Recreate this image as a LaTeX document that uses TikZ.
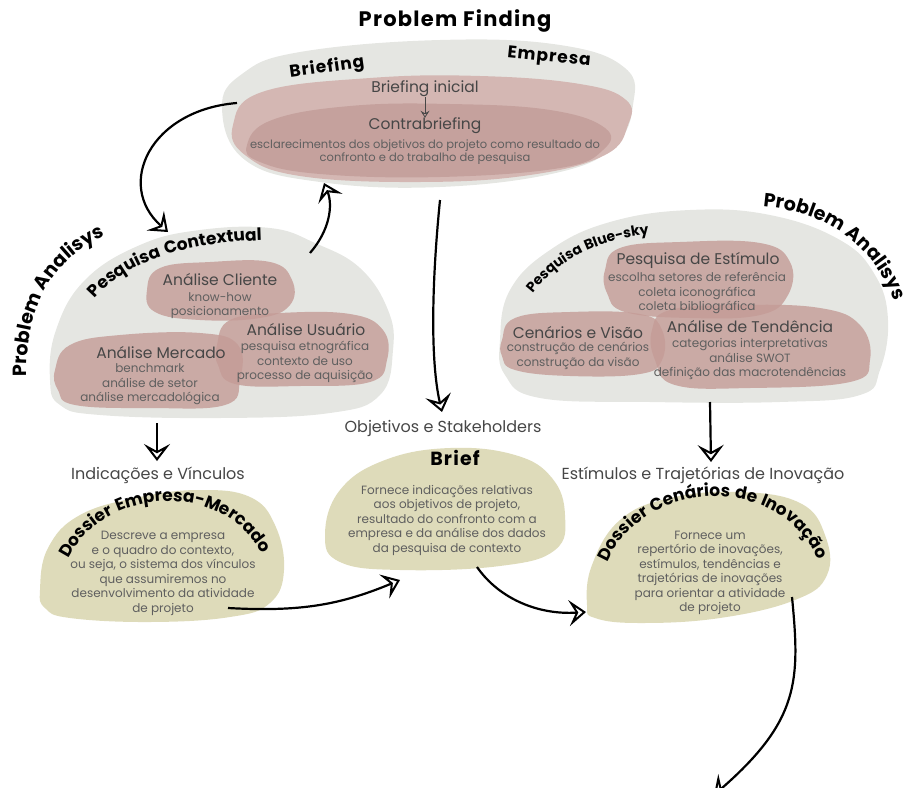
\documentclass[tikz,border=0pt]{standalone}
\usepackage{fontspec}
\setmainfont{Poppins}
\newfontfamily\handfam{Poppins}[LetterSpace=6]
\usetikzlibrary{arrows.meta,decorations.text}
\definecolor{blobgrey}{RGB}{229,230,226}
\definecolor{pinklight}{RGB}{212,183,179}
\definecolor{pinkdark}{RGB}{197,161,157}
\definecolor{pinkblob}{RGB}{196,155,150}
\definecolor{olivefill}{RGB}{222,219,186}
\definecolor{txthead}{RGB}{70,70,70}
\definecolor{txtbody}{RGB}{95,95,95}
\newcommand\handtxt{\handfam\bfseries\fontsize{17}{17}\selectfont}
\newcommand\handbig{\handfam\bfseries\fontsize{19}{19}\selectfont}
\newcommand\handsmall{\handfam\bfseries\fontsize{14}{14}\selectfont}
\begin{document}
\begin{tikzpicture}[x=1pt,y=-1pt,
  greyfill/.style={fill=blobgrey},
  pinkfill/.style={fill=pinkblob, fill opacity=0.8},
  olive/.style={fill=olivefill},
  head/.style={text=txthead, font=\fontsize{15.5}{17}\selectfont, inner sep=0pt},
  body/.style={text=txtbody, font=\fontsize{12}{14.5}\selectfont, align=center, inner sep=0pt},
  lbl/.style={text=txthead, font=\fontsize{16}{18}\selectfont, inner sep=0pt},
  hand/.style={font=\handtxt, inner sep=0pt},
  bigtitle/.style={font=\handfam\bfseries\fontsize{21}{21}\selectfont, inner sep=0pt},
  conn/.style={line width=2.2pt, -{Stealth[open, length=17pt, width=26pt, inset=7pt, line width=2pt, fill=white]}},
  smallarrow/.style={line width=0.8pt, draw=txthead, -{Stealth[open, length=7pt, width=9pt, inset=2.5pt]}},
  curved/.style={decorate, decoration={text along path, text align=center, text={|\handtxt|#1}}},
  curvedbig/.style={decorate, decoration={text along path, text align=center, text={|\handbig|#1}}},
  curvedsmall/.style={decorate, decoration={text along path, text align=center, text={|\handsmall|#1}}}
]
\useasboundingbox (0,0) rectangle (909,787);

% ---------- top blob ----------
\fill[greyfill] plot[smooth cycle, tension=0.7] coordinates {(222,108) (242,74) (300,52) (440,40) (560,45) (625,68) (633,105) (615,145) (560,172) (440,187) (320,182) (245,160)};
\fill[pinklight] plot[smooth cycle, tension=0.7] coordinates {(233,125) (262,92) (370,78) (480,76) (580,84) (626,100) (628,125) (605,155) (530,175) (420,182) (300,176) (245,155)};
\fill[pinkdark] plot[smooth cycle, tension=0.7] coordinates {(247,145) (272,120) (350,106) (450,104) (550,110) (605,128) (603,150) (560,168) (440,177) (320,174) (260,162)};

\node[bigtitle] (pf) at (455,21) {Problem Finding};
\node[hand, rotate=8] (lbrief) at (327,68) {Briefing};
\node[hand, rotate=-6] (lemp) at (549,58) {Empresa};
\node[head] (bi) at (425,89) {Briefing inicial};
\node[head] (cb) at (425,126) {Contrabriefing};
\draw[smallarrow] (bi.south) -- (cb.north);
\node[body, font=\fontsize{11.5}{13}\selectfont] (esc) at (425,152.5) {esclarecimentos dos objetivos do projeto como resultado do\\confronto e do trabalho de pesquisa};

% ---------- left cluster ----------
\fill[greyfill] plot[smooth cycle, tension=0.7] coordinates {(50,380) (56,330) (85,280) (140,245) (200,230) (270,228) (315,243) (360,268) (388,310) (393,350) (380,395) (330,413) (220,418) (100,415) (60,405)};
\fill[pinkfill] plot[smooth cycle, tension=0.7] coordinates {(147,290) (160,268) (210,262) (270,262) (292,280) (290,305) (260,318) (200,320) (155,312)};
\fill[pinkfill] plot[smooth cycle, tension=0.7] coordinates {(217,345) (230,320) (280,313) (350,314) (383,330) (387,360) (370,382) (300,386) (235,384) (218,365)};
\fill[pinkfill] plot[smooth cycle, tension=0.7] coordinates {(55,370) (70,345) (120,335) (200,333) (238,345) (240,380) (225,405) (150,408) (75,405) (58,390)};

\path[curved={Pesquisa Contextual}] (84,313) .. controls (115,265) and (178,240) .. (280,240);
\path[curvedbig={Problem Analisys}] (28,392) .. controls (20,305) and (55,252) .. (120,230);

\node[head] (acl) at (220,280) {Análise Cliente};
\node[body] (acl2) at (220,305.5) {know-how\\posicionamento};
\node[head] (aus) at (306,330) {Análise Usuário};
\node[body] (aus2) at (305,362) {pesquisa etnográfica\\contexto de uso\\processo de aquisição};
\node[head] (ame) at (161,353) {Análise Mercado};
\node[body] (ame2) at (150,384.5) {benchmark\\análise de setor\\análise mercadológica};

% ---------- right cluster ----------
\fill[greyfill] plot[smooth cycle, tension=0.7] coordinates {(500,340) (510,290) (550,250) (610,222) (690,210) (770,215) (840,240) (875,275) (888,320) (880,370) (860,395) (780,402) (650,402) (540,398) (505,375)};
\fill[pinkfill] plot[smooth cycle, tension=0.7] coordinates {(605,270) (620,248) (680,242) (760,243) (790,262) (788,295) (760,315) (690,318) (625,312) (607,293)};
\fill[pinkfill] plot[smooth cycle, tension=0.7] coordinates {(502,340) (515,318) (570,312) (640,314) (662,330) (662,360) (640,374) (570,376) (515,370) (502,356)};
\fill[pinkfill] plot[smooth cycle, tension=0.7] coordinates {(652,330) (670,310) (740,305) (820,308) (860,325) (870,360) (850,382) (750,388) (675,385) (655,360)};

\path[curvedsmall={Pesquisa Blue-sky}] (532,294) .. controls (560,258) and (600,240) .. (650,234);
\path[curvedbig={Problem Analisys}] (752,206) .. controls (828,208) and (880,250) .. (898,312);

\node[head] (pes) at (698,260) {Pesquisa de Estímulo};
\node[body] (pes2) at (697,293.5) {escolha setores de referência\\coleta iconográfica\\coleta bibliográfica};
\node[head] (cev) at (578,333) {Cenários e Visão};
\node[body] (cev2) at (578,356) {construção de cenários\\construção da visão};
\node[head] (ten) at (750,327) {Análise de Tendência};
\node[body] (ten2) at (750,359) {categorias interpretativas\\análise SWOT\\definição das macrotendências};

% ---------- middle labels ----------
\node[lbl] (iv) at (158,475) {Indicações e Vínculos};
\node[lbl] (os) at (443,428) {Objetivos e Stakeholders};
\node[lbl] (et) at (703,475) {Estímulos e Trajetórias de Inovação};

% ---------- olive blobs ----------
\fill[olive] plot[smooth cycle, tension=0.7] coordinates {(40,590) (48,548) (80,515) (140,497) (200,490) (250,497) (275,525) (284,570) (270,603) (230,617) (150,622) (70,618) (45,608)};
\fill[olive] plot[smooth cycle, tension=0.7] coordinates {(325,535) (340,490) (385,460) (450,448) (515,455) (552,478) (565,515) (555,550) (500,566) (400,570) (340,562)};
\fill[olive] plot[smooth cycle, tension=0.7] coordinates {(587,605) (592,565) (620,520) (670,498) (740,492) (800,503) (825,535) (827,575) (795,600) (720,618) (640,623) (595,618)};

\path[curved={Dossier Empresa-Mercado}] (62,575) .. controls (90,480) and (240,475) .. (268,570);
\path[curved={Dossier Cenários de Inovação}] (600,585) .. controls (625,470) and (800,465) .. (825,582);

\node[body] (dem) at (163,573.5) {Descreve a empresa\\e o quadro do contexto,\\ou seja, o sistema dos vínculos\\que assumiremos no\\desenvolvimento da atividade\\de projeto};
\node[hand, font=\handbig] (brieft) at (455,458) {Brief};
\node[body] (brt) at (447,520) {Fornece indicações relativas\\aos objetivos de projeto,\\resultado do confronto com a\\empresa e da análise dos dados\\da pesquisa de contexto};
\node[body] (dci) at (710,573) {Fornece um\\repertório de inovações,\\estímulos, tendências e\\trajetórias de inovações\\para orientar a atividade\\de projeto};

% ---------- connectors ----------
\coordinate (a1s) at (237,103);
\coordinate (a1e) at (168,232);
\coordinate (a2s) at (310,253);
\coordinate (a2e) at (324,183);
\coordinate (a3s) at (440,200);
\coordinate (a3e) at (442,412);
\coordinate (a4s) at (157,423);
\coordinate (a4e) at (157,461);
\coordinate (a5s) at (710,402);
\coordinate (a5e) at (711,462);
\coordinate (a6s) at (228,608);
\coordinate (a6e) at (400,580);
\coordinate (a7s) at (477,567);
\coordinate (a7e) at (586,612);
\coordinate (a8s) at (792,597);
\coordinate (a8e) at (714,795);

\draw[conn] (a1s) .. controls (150,110) and (115,185) .. (a1e);
\draw[conn] (a2s) .. controls (330,230) and (333,205) .. (a2e);
\draw[conn] (a3s) .. controls (432,280) and (430,360) .. (a3e);
\draw[conn] (a4s) -- (a4e);
\draw[conn] (a5s) -- (a5e);
\draw[conn] (a6s) .. controls (300,612) and (340,605) .. (a6e);
\draw[conn] (a7s) .. controls (500,600) and (540,615) .. (a7e);
\draw[conn] (a8s) .. controls (800,680) and (800,720) .. (a8e);
\end{tikzpicture}
\end{document}
